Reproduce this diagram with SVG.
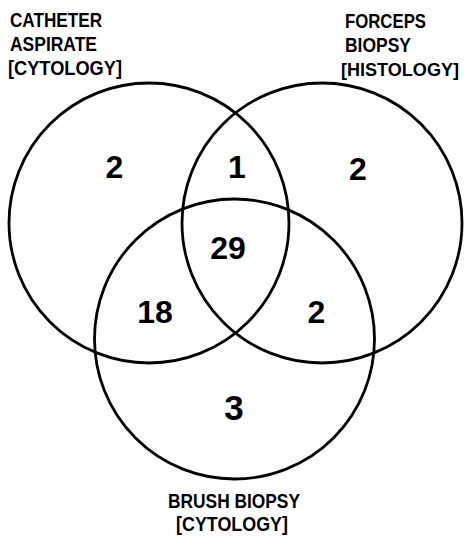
<svg xmlns="http://www.w3.org/2000/svg" width="465" height="537" viewBox="0 0 465 537">
<style>
.c{fill:none;stroke:#000;stroke-width:2.8}
.l{font-family:"Liberation Sans",Arial,sans-serif;font-weight:bold;font-size:20px;fill:#000}
.n{font-family:"Liberation Sans",Arial,sans-serif;font-weight:bold;font-size:32px;fill:#000;text-anchor:middle}
</style>
<rect width="465" height="537" fill="#fff"/>
<g id="catheter">
<circle class="c" cx="149" cy="223" r="140"/>
<text class="l" x="10" y="27" textLength="92" lengthAdjust="spacingAndGlyphs">CATHETER</text>
<text class="l" x="10" y="51" textLength="87" lengthAdjust="spacingAndGlyphs">ASPIRATE</text>
<text class="l" x="8" y="75" textLength="114" lengthAdjust="spacingAndGlyphs">[CYTOLOGY]</text>
</g>
<g id="forceps">
<circle class="c" cx="322" cy="223" r="140"/>
<text class="l" x="345" y="28" textLength="81" lengthAdjust="spacingAndGlyphs">FORCEPS</text>
<text class="l" x="345" y="52" textLength="66" lengthAdjust="spacingAndGlyphs">BIOPSY</text>
<text class="l" x="341" y="76" style="font-size:18px" textLength="118" lengthAdjust="spacingAndGlyphs">[HISTOLOGY]</text>
</g>
<g id="brush">
<circle class="c" cx="234.5" cy="339" r="140"/>
<text class="l" x="168" y="508" textLength="132" lengthAdjust="spacingAndGlyphs">BRUSH BIOPSY</text>
<text class="l" x="176" y="531" textLength="112" lengthAdjust="spacingAndGlyphs">[CYTOLOGY]</text>
</g>
<g id="counts">
<text class="n" x="114.5" y="178">2</text>
<text class="n" x="237" y="178">1</text>
<text class="n" x="358" y="180">2</text>
<text class="n" x="228" y="259">29</text>
<text class="n" x="155" y="323">18</text>
<text class="n" x="316.5" y="323">2</text>
<text class="n" x="234" y="420" style="font-size:35px">3</text>
</g>
</svg>
